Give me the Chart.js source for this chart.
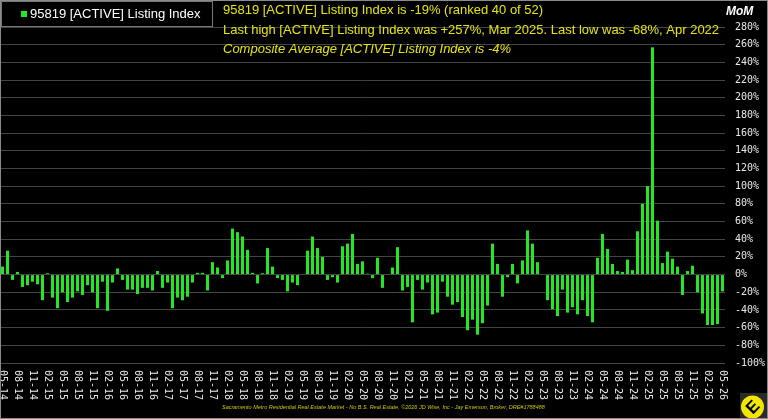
<!DOCTYPE html>
<html>
<head>
<meta charset="utf-8">
<title>95819 [ACTIVE] Listing Index</title>
<script src="https://cdn.jsdelivr.net/npm/chart.js@4.4.1/dist/chart.umd.min.js"></script>
<style>
  html, body { margin: 0; padding: 0; background: #000; }
  #wrap { width: 768px; height: 419px; }
</style>
</head>
<body>
<div id="wrap"><canvas id="listingChart" width="768" height="419"></canvas></div>
<script>
// months, May 2014 .. May 2026
const months = [
  '05-14','06-14','07-14','08-14','09-14','10-14','11-14','12-14',
  '01-15','02-15','03-15','04-15','05-15','06-15','07-15','08-15','09-15','10-15','11-15','12-15',
  '01-16','02-16','03-16','04-16','05-16','06-16','07-16','08-16','09-16','10-16','11-16','12-16',
  '01-17','02-17','03-17','04-17','05-17','06-17','07-17','08-17','09-17','10-17','11-17','12-17',
  '01-18','02-18','03-18','04-18','05-18','06-18','07-18','08-18','09-18','10-18','11-18','12-18',
  '01-19','02-19','03-19','04-19','05-19','06-19','07-19','08-19','09-19','10-19','11-19','12-19',
  '01-20','02-20','03-20','04-20','05-20','06-20','07-20','08-20','09-20','10-20','11-20','12-20',
  '01-21','02-21','03-21','04-21','05-21','06-21','07-21','08-21','09-21','10-21','11-21','12-21',
  '01-22','02-22','03-22','04-22','05-22','06-22','07-22','08-22','09-22','10-22','11-22','12-22',
  '01-23','02-23','03-23','04-23','05-23','06-23','07-23','08-23','09-23','10-23','11-23','12-23',
  '01-24','02-24','03-24','04-24','05-24','06-24','07-24','08-24','09-24','10-24','11-24','12-24',
  '01-25','02-25','03-25','04-25','05-25','06-25','07-25','08-25','09-25','10-25','11-25','12-25',
  '01-26','02-26','03-26','04-26','05-26'
];

// month over month change, %
const listingIndex = [
  9, 27, -6, 3, -14, -12, -8, -11,
  -29, 1.5, -26, -38, -20, -31, -26, -19, -23, -12, -20, -38,
  -8, -41, -9, 7, -6, -17, -17, -22, -15, -15, -18, 4,
  -15, -9, -38, -26, -29, -25, -9, 2, 2, -18, 14, 8,
  -4, 16, 52, 48, 43, 28, 2, -10, 1.5, 30, 9, -4,
  -6, -19, -9, -12, 0, 27, 43, 30, 20, -6, -3, -9,
  32, 35, 46, 12, 15, 1, -4, 19, -15, 0, 8, 31,
  -18, -14, -54, -6, -17, -9, -45, -43, -8, -25, -34, -31,
  -48, -63, -51, -68, -55, -35, 35, 12, -25, -3, 12, -10,
  16, 50, 35, 14, 0, -29, -39, -47, -17, -43, -37, -45,
  -29, -47, -54, 19, 46, 29, 12, 4, 3, 17, 5, 49,
  80, 100, 257, 61, 13, 26, 18, 9, -23, 4, 10, -20,
  -44, -57, -57, -56, -19
];

const yMin = -100;
const yMax = 280;
const yStep = 20;
const labelEvery = 3; // every quarter gets a tick label

const legendLabel = '95819 [ACTIVE] Listing Index';
const titleLines = [
  '95819 [ACTIVE] Listing Index is -19% (ranked 40 of 52)',
  'Last high [ACTIVE] Listing Index was +257%, Mar 2025. Last low was -68%, Apr 2022',
  'Composite Average [ACTIVE] Listing Index is -4%'
];
const footerText = 'Sacramento Metro Residential Real Estate Market - No B.S. Real Estate, \u00a92026 JD Wise, Inc - Jay Emerson, Broker, DRE#1788488';

const YELLOW = '#e6e600';
const GREEN = '#22e822';

// everything the library does not draw itself
const decorations = {
  id: 'decorations',
  afterDraw(chart) {
    const ctx = chart.ctx;
    const x = chart.scales.x;
    ctx.save();

    // rotated month labels (read top to bottom)
    ctx.fillStyle = '#e8e8e8';
    ctx.font = '10px "DejaVu Sans Mono", monospace';
    ctx.textAlign = 'left';
    ctx.textBaseline = 'middle';
    months.forEach((m, i) => {
      if (i % labelEvery !== 0) return;
      ctx.save();
      ctx.translate(x.getPixelForValue(i), 370);
      ctx.rotate(Math.PI / 2);
      ctx.fillText(m, 0, 0);
      ctx.restore();
    });

    // legend box
    ctx.fillStyle = '#000';
    ctx.fillRect(1, 1, 211, 25);
    ctx.strokeStyle = '#777';
    ctx.lineWidth = 1;
    ctx.strokeRect(1.5, 1.5, 211, 25);
    ctx.fillStyle = GREEN;
    ctx.fillRect(21, 11, 6, 6);
    ctx.fillStyle = '#fff';
    ctx.font = '13px "Liberation Sans", Arial, sans-serif';
    ctx.fillText(legendLabel, 30, 14);

    // headline text
    ctx.fillStyle = YELLOW;
    ctx.fillText(titleLines[0], 223, 10);
    ctx.fillText(titleLines[1], 223, 30);
    ctx.font = 'italic 13px "Liberation Sans", Arial, sans-serif';
    ctx.fillText(titleLines[2], 223, 49);

    // axis caption
    ctx.fillStyle = '#fff';
    ctx.font = 'italic bold 12px "Liberation Sans", Arial, sans-serif';
    ctx.fillText('MoM', 726, 12);

    // footer
    ctx.fillStyle = '#c8c800';
    ctx.font = 'italic 5.5px "Liberation Sans", Arial, sans-serif';
    ctx.fillText(footerText, 222, 407);

    // logo
    ctx.fillStyle = '#2a2a2a';
    ctx.fillRect(740, 393, 27, 25);
    ctx.fillStyle = '#f2e600';
    ctx.beginPath();
    ctx.arc(752.5, 407, 11.5, 0, Math.PI * 2);
    ctx.fill();
    ctx.save();
    ctx.translate(752.5, 407);
    ctx.rotate(-0.8);
    ctx.fillStyle = '#000';
    ctx.font = 'bold 17px "Liberation Sans", Arial, sans-serif';
    ctx.textAlign = 'center';
    ctx.fillText('E', 0, 1);
    ctx.restore();

    // outer frame
    ctx.strokeStyle = '#8a8a8a';
    ctx.strokeRect(0.5, 0.5, 767, 418);
    ctx.restore();
  }
};

new Chart(document.getElementById('listingChart').getContext('2d'), {
  type: 'bar',
  data: {
    labels: months,
    datasets: [{
      label: legendLabel,
      data: listingIndex,
      backgroundColor: GREEN,
      borderWidth: 0,
      barPercentage: 0.6,
      categoryPercentage: 1.0
    }]
  },
  options: {
    responsive: false,
    animation: false,
    layout: {
      padding: { top: 27, bottom: 56, left: 0, right: 0 }
    },
    plugins: {
      legend: { display: false },
      tooltip: { enabled: false },
      title: { display: false }
    },
    scales: {
      x: {
        display: false
      },
      y: {
        position: 'right',
        min: yMin,
        max: yMax,
        afterFit(scale) { scale.width = 43; },
        border: { display: false },
        grid: {
          color: '#444',
          lineWidth: 1,
          drawTicks: false
        },
        ticks: {
          stepSize: yStep,
          padding: 10,
          color: '#e8e8e8',
          font: { family: '"DejaVu Sans Mono", monospace', size: 10 },
          callback: v => v + '%'
        }
      }
    }
  },
  plugins: [decorations]
});
</script>
</body>
</html>
